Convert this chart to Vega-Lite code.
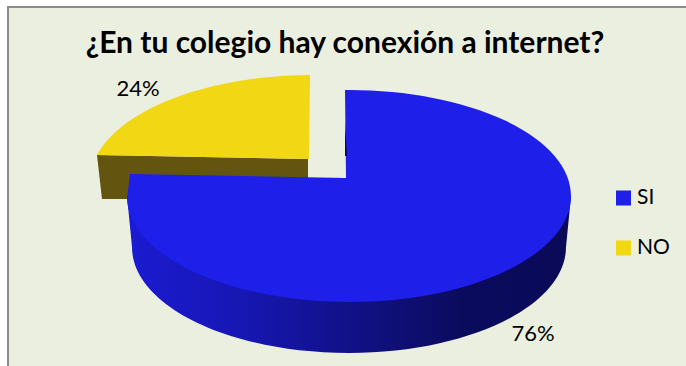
{
  "$schema": "https://vega.github.io/schema/vega-lite/v6.json",
  "autosize": "none",
  "width": 682,
  "height": 362,
  "padding": {"left": 8, "top": 7, "right": 0, "bottom": 0},
  "background": "#ffffff",
  "view": {"fill": "#EBEFDF", "stroke": "#8c8c8c", "strokeWidth": 2},
  "data": {"values": [
    {"answer": "SI", "share": 0.76},
    {"answer": "NO", "share": 0.24}
  ]},
  "encoding": {
    "x": {"field": "answer", "type": "nominal", "axis": null, "scale": {"type": "point", "padding": 0, "domain": ["NO", "SI"], "range": [300, 341]}},
    "y": {"field": "answer", "type": "nominal", "axis": null, "scale": {"type": "point", "padding": 0, "domain": ["NO", "SI"], "range": [152, 189]}}
  },
  "layer": [
    {
      "transform": [{"filter": "datum.answer === 'NO'"}],
      "mark": {"type": "point", "filled": true, "opacity": 1, "size": 4, "fill": "#635510", "shape": "M-211,-4 L0,0 L0,26 L-181,40 L-206,40 Z"}
    },
    {
      "transform": [{"filter": "datum.answer === 'SI'"}],
      "mark": {
        "type": "point", "filled": true, "opacity": 1, "size": 4,
        "fill": {"gradient": "linear", "x1": 0, "y1": 0, "x2": 1, "y2": 0, "stops": [
          {"offset": 0, "color": "#1b1bd2"},
          {"offset": 0.25, "color": "#1717b4"},
          {"offset": 0.5, "color": "#111188"},
          {"offset": 0.75, "color": "#0b0b5e"},
          {"offset": 1, "color": "#0a0a58"}
        ]},
        "shape": "M-222,0 L-217,51 A217,106 0 0 0 0,157 A217,106 0 0 0 217,51 L222,0 Z"
      }
    },
    {
      "transform": [{"filter": "datum.answer === 'SI'"}],
      "mark": {"type": "point", "filled": true, "opacity": 1, "size": 4, "shape": "M-4,-106 A222,106 0 0 1 222,0 A222,106 0 0 1 0,106 A222,106 0 0 1 -222,3 L-219,-22 L-3,-18 Z"},
      "encoding": {
        "color": {
          "field": "answer", "type": "nominal",
          "scale": {"domain": ["SI", "NO"], "range": ["#1F1FEA", "#F2D714"]},
          "legend": {
            "title": null,
            "orient": "none",
            "legendX": 605,
            "legendY": 180.5,
            "symbolType": "square",
            "symbolSize": 225,
            "symbolStrokeWidth": 0,
            "symbolOpacity": 1,
            "labelFont": "Lato",
            "labelFontSize": 21,
            "labelColor": "#000000",
            "labelOffset": 3,
            "rowPadding": 28
          }
        }
      }
    },
    {
      "transform": [{"filter": "datum.answer === 'SI'"}],
      "mark": {"type": "point", "filled": true, "opacity": 1, "size": 4, "fill": "#0a0a58", "shape": "M-4,-75 L-2,-40 L-4,-40 Z"}
    },
    {
      "transform": [{"filter": "datum.answer === 'NO'"}],
      "mark": {"type": "point", "filled": true, "opacity": 1, "size": 4, "shape": "M-211,-4 A222,106 0 0 1 2,-84 L1,0 Z"},
      "encoding": {
        "color": {"field": "answer", "type": "nominal"}
      }
    },
    {
      "transform": [{"filter": "datum.answer === 'NO'"}],
      "mark": {"type": "text", "font": "Lato", "fontSize": 22, "color": "#000000", "dx": -170, "dy": -63, "baseline": "alphabetic"},
      "encoding": {"text": {"field": "share", "format": ".0%"}}
    },
    {
      "transform": [{"filter": "datum.answer === 'SI'"}],
      "mark": {"type": "text", "font": "Lato", "fontSize": 22, "color": "#000000", "dx": 184, "dy": 145, "baseline": "alphabetic"},
      "encoding": {"text": {"field": "share", "format": ".0%"}}
    },
    {
      "data": {"values": [{"answer": "SI", "question": "¿En tu colegio hay conexión a internet?"}]},
      "mark": {"type": "text", "font": "Lato", "fontWeight": "bold", "fontSize": 30, "color": "#000000", "dx": -4, "dy": -143, "baseline": "alphabetic", "align": "center"},
      "encoding": {"text": {"field": "question"}}
    }
  ]
}
